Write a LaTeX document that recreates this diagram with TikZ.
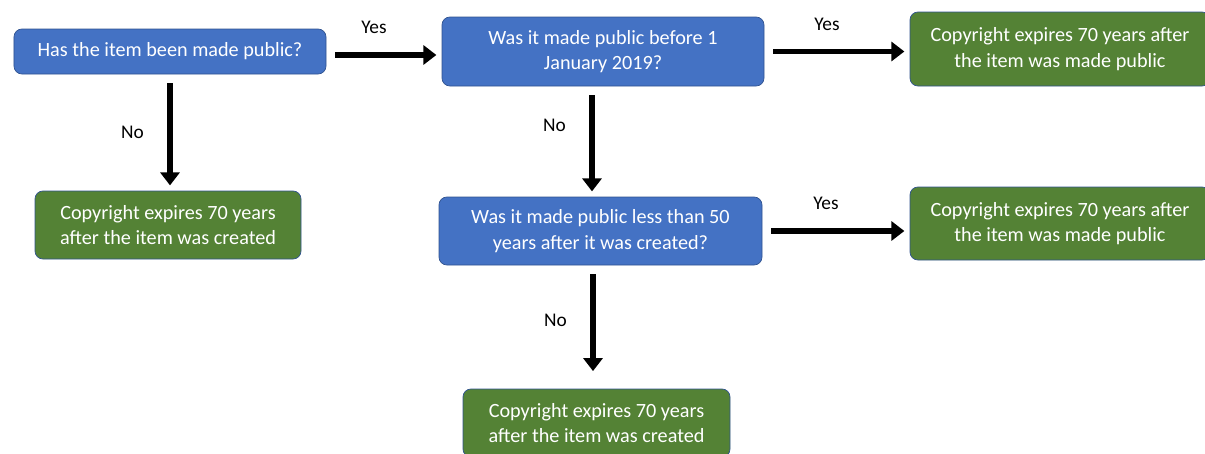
\documentclass[tikz,border=0pt]{standalone}
\usepackage{fontspec}
\setmainfont{Carlito}
\usepackage{tikz}
\usetikzlibrary{arrows.meta}
\definecolor{qblue}{HTML}{4472C4}
\definecolor{agreen}{HTML}{548235}
\definecolor{rim}{HTML}{2F528F}

\begin{document}
\begin{tikzpicture}[
	question/.style={draw=rim, fill=qblue, rounded corners=4.5pt, text=white, align=center, inner sep=0pt, font=\fontsize{11.5}{14.5}\selectfont},
	answer/.style={question, fill=agreen},
	flow/.style={line width=3.2pt, -{Triangle[length=2.6mm,width=3.8mm]}, shorten <=5pt, shorten >=3pt},
	yeslbl/.style={midway, above=.25cm, xshift=-.2cm, font=\fontsize{11}{12}\selectfont},
	nolbl/.style={midway, left=.35cm, font=\fontsize{11}{12}\selectfont}]
	\useasboundingbox (0,0) rectangle (24.1,-9.06);
	\node[question, minimum width=6.24cm, minimum height=.9cm] (public) at (3.4,-1.03) {Has the item been made public?};
	\node[question, minimum width=6.44cm, minimum height=1.38cm] (before) at (12.06,-1.03) {Was it made public before 1\\January 2019?};
	\node[answer, minimum width=6cm, minimum height=1.48cm] (madeA) at (21.2,-.98) {Copyright expires 70 years after\\the item was made public};
	\node[answer, minimum width=5.32cm, minimum height=1.36cm] (createdA) at (3.36,-4.5) {Copyright expires 70 years\\after the item was created};
	\node[question, minimum width=6.46cm, minimum height=1.36cm] (fifty) at (12.01,-4.62) {Was it made public less than 50\\years after it was created?};
	\node[answer, minimum width=6cm, minimum height=1.46cm] (madeB) at (21.2,-4.47) {Copyright expires 70 years after\\the item was made public};
	\node[answer, minimum width=5.34cm, minimum height=1.36cm] (createdB) at (11.93,-8.46) {Copyright expires 70 years\\after the item was created};
	\draw[flow] ([yshift=-.07cm]public.east) -- ([yshift=-.07cm]public.east -| before.west) node[yeslbl] {Yes};
	\draw[flow] (before.east) -- (before.east -| madeA.west) node[yeslbl] {Yes};
	\draw[flow] (public.south) -- (public.south |- createdA.north) node[nolbl] {No};
	\draw[flow] ([xshift=-.22cm]before.south) -- ([xshift=-.22cm]before.south |- fifty.north) node[nolbl, pos=.35] {No};
	\draw[flow] (fifty.east) -- (fifty.east -| madeB.west) node[yeslbl] {Yes};
	\draw[flow, shorten >=10pt] ([xshift=-.15cm]fifty.south) -- ([xshift=-.15cm]fifty.south |- createdB.north) node[nolbl, pos=.45] {No};
\end{tikzpicture}
\end{document}
